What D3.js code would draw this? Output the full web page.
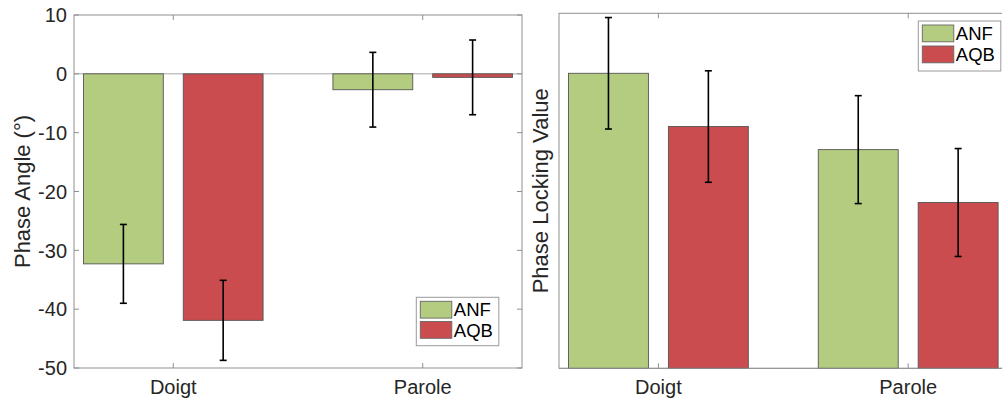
<!DOCTYPE html>
<html>
<head>
<meta charset="utf-8">
<script src="https://cdn.jsdelivr.net/npm/d3@7"></script>
<style>
  html, body { margin: 0; padding: 0; background: #fff; }
  svg { display: block; font-family: Helvetica, Arial, "Liberation Sans", sans-serif; }
</style>
</head>
<body>
<div id="chart"></div>
<script>
// Data
const categories = ['Doigt', 'Parole'];
const series = ['ANF', 'AQB'];
const colors = { ANF: '#b4cc80', AQB: '#cb4c4e' };

// Left panel: phase angle (degrees)
const angleMean = { ANF: [-32.3, -2.7], AQB: [-41.9, -0.6] };
const angleErr  = { ANF: [6.7, 6.35], AQB: [6.8, 6.35] };
const angleTicks = [-50, -40, -30, -20, -10, 0, 10];

// Right panel: phase locking value (no tick labels shown, relative units)
const plvMean = { ANF: [0.831, 0.616], AQB: [0.681, 0.467] };
const plvErr  = { ANF: [0.157, 0.152], AQB: [0.157, 0.152] };

const width = 1002, height = 401;
const svg = d3.select('#chart').append('svg')
    .attr('width', width)
    .attr('height', height);

const axisColor = '#8f8f8f';
const textColor = '#262626';

function drawPanel(opt) {
    const g = svg.append('g');
    const { left, right, top, bottom } = opt;

    const x = d3.scalePoint().domain(categories).range([left, right]).padding(0.398);
    const step = x.step();
    const inner = d3.scaleBand().domain(series)
        .range([-0.4 * step, 0.4 * step])
        .paddingInner(0.2).paddingOuter(0.1);
    const y = d3.scaleLinear().domain(opt.yDomain).range([bottom, top]);

    // flatten rows
    const rows = [];
    categories.forEach((c, i) => {
        series.forEach(s => {
            rows.push({ cat: c, s, v: opt.mean[s][i], e: opt.err[s][i] });
        });
    });

    // baseline at zero
    g.append('line')
        .attr('x1', left).attr('x2', right)
        .attr('y1', y(0)).attr('y2', y(0))
        .attr('stroke', '#a8a8a8').attr('stroke-width', 1);

    // bars
    g.selectAll('rect.bar')
        .data(rows)
        .enter()
        .append('rect')
        .attr('class', 'bar')
        .attr('x', d => x(d.cat) + inner(d.s))
        .attr('width', inner.bandwidth())
        .attr('y', d => Math.min(y(d.v), y(0)))
        .attr('height', d => Math.abs(y(d.v) - y(0)))
        .attr('fill', d => colors[d.s])
        .attr('stroke', '#555')
        .attr('stroke-width', 0.9);

    // error bars
    const eb = g.append('g').attr('stroke', '#000').attr('stroke-width', 1.6);
    rows.forEach(d => {
        const cx = x(d.cat) + inner(d.s) + inner.bandwidth() / 2;
        eb.append('line')
            .attr('x1', cx).attr('x2', cx)
            .attr('y1', y(d.v + d.e)).attr('y2', y(d.v - d.e));
        [d.v + d.e, d.v - d.e].forEach(val => {
            eb.append('line')
                .attr('x1', cx - 3.5).attr('x2', cx + 3.5)
                .attr('y1', y(val)).attr('y2', y(val));
        });
    });

    // box
    g.append('rect')
        .attr('x', left).attr('y', top)
        .attr('width', right - left).attr('height', bottom - top)
        .attr('fill', 'none')
        .attr('stroke', axisColor).attr('stroke-width', 1);

    // x ticks (inward, top and bottom)
    categories.forEach(c => {
        g.append('line').attr('x1', x(c)).attr('x2', x(c))
            .attr('y1', bottom).attr('y2', bottom - 5)
            .attr('stroke', axisColor);
        g.append('line').attr('x1', x(c)).attr('x2', x(c))
            .attr('y1', top).attr('y2', top + 5)
            .attr('stroke', axisColor);
        g.append('text')
            .attr('x', x(c)).attr('y', bottom + 26)
            .attr('text-anchor', 'middle')
            .attr('font-size', '20px')
            .attr('fill', textColor)
            .text(c);
    });

    // y ticks
    if (opt.yTicks) {
        opt.yTicks.forEach(t => {
            g.append('line').attr('x1', left).attr('x2', left + 5)
                .attr('y1', y(t)).attr('y2', y(t)).attr('stroke', axisColor);
            g.append('line').attr('x1', right).attr('x2', right - 5)
                .attr('y1', y(t)).attr('y2', y(t)).attr('stroke', axisColor);
            g.append('text')
                .attr('x', left - 7).attr('y', y(t))
                .attr('dy', '0.36em')
                .attr('text-anchor', 'end')
                .attr('font-size', '20px')
                .attr('fill', textColor)
                .text(t);
        });
    }

    // y label
    g.append('text')
        .attr('transform', `translate(${opt.labelX},${(top + bottom) / 2}) rotate(-90)`)
        .attr('text-anchor', 'middle')
        .attr('font-size', '22px')
        .attr('fill', textColor)
        .text(opt.label);

    // legend
    const lg = g.append('g').attr('transform', `translate(${opt.legend[0]},${opt.legend[1]})`);
    lg.append('rect')
        .attr('width', 82.5).attr('height', opt.legendH)
        .attr('fill', '#fff').attr('stroke', '#9a9a9a').attr('stroke-width', 1);
    series.forEach((s, i) => {
        const yy = 4 + i * (opt.legendH - 8) / 2;
        lg.append('rect')
            .attr('x', 4).attr('y', yy)
            .attr('width', 31.5).attr('height', 16.8)
            .attr('fill', colors[s])
            .attr('stroke', '#666').attr('stroke-width', 0.9);
        lg.append('text')
            .attr('x', 37.5).attr('y', yy + 8.4)
            .attr('dy', '0.36em')
            .attr('font-size', '18.5px')
            .attr('fill', '#000')
            .text(s);
    });
}

drawPanel({
    left: 74, right: 522, top: 15, bottom: 368,
    yDomain: [-50, 10], yTicks: angleTicks,
    mean: angleMean, err: angleErr,
    label: 'Phase Angle (°)', labelX: 29.5,
    legend: [416.3, 297.3], legendH: 48.4
});

drawPanel({
    left: 559, right: 1007.6, top: 13.3, bottom: 368.3,
    yDomain: [0, 1], yTicks: null,
    mean: plvMean, err: plvErr,
    label: 'Phase Locking Value', labelX: 548.3,
    legend: [918.3, 21], legendH: 50
});
</script>
</body>
</html>
